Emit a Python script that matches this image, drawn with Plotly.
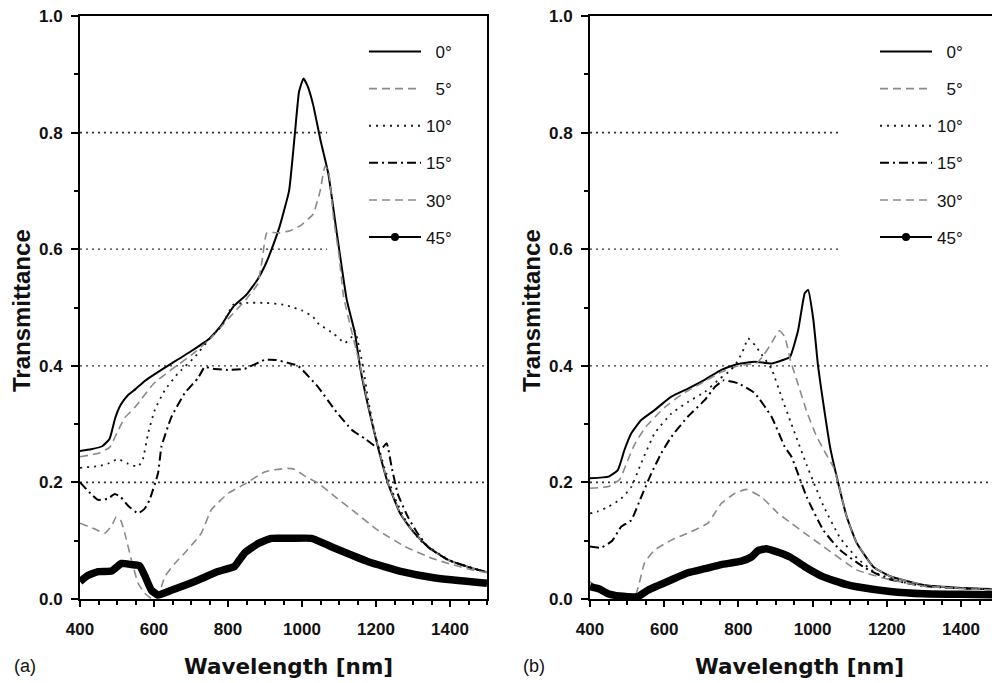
import plotly.graph_objects as go

# ---------------- data: panel (a) ----------------
a0_wl = [400, 430, 460, 480, 495, 510, 530, 550, 575, 600, 650, 700, 750, 780, 815, 850, 880, 900, 918, 940, 965, 981, 992, 1004, 1015, 1030, 1050, 1071, 1094, 1121, 1143, 1157, 1179, 1205, 1232, 1265, 1297, 1341, 1395, 1459, 1500]
a0_t = [0.254, 0.257, 0.262, 0.275, 0.31, 0.333, 0.35, 0.36, 0.374, 0.385, 0.405, 0.425, 0.447, 0.468, 0.502, 0.522, 0.548, 0.572, 0.60, 0.64, 0.70, 0.80, 0.87, 0.893, 0.88, 0.848, 0.787, 0.73, 0.628, 0.513, 0.456, 0.398, 0.33, 0.261, 0.199, 0.147, 0.118, 0.089, 0.067, 0.053, 0.046]

a5_wl = [400, 450, 480, 500, 520, 550, 600, 650, 700, 750, 800, 850, 880, 892, 905, 940, 970, 995, 1030, 1049, 1062, 1071, 1085, 1100, 1112, 1130, 1157, 1180, 1205, 1232, 1265, 1297, 1341, 1395, 1460, 1500]
a5_t = [0.244, 0.25, 0.26, 0.285, 0.31, 0.33, 0.37, 0.395, 0.418, 0.445, 0.48, 0.515, 0.54, 0.58, 0.628, 0.628, 0.632, 0.64, 0.66, 0.70, 0.742, 0.736, 0.655, 0.59, 0.52, 0.47, 0.40, 0.33, 0.262, 0.20, 0.148, 0.118, 0.089, 0.067, 0.053, 0.046]

a10_wl = [400, 450, 475, 503, 530, 557, 570, 584, 602, 629, 665, 710, 755, 782, 815, 850, 900, 950, 976, 1000, 1030, 1043, 1084, 1116, 1135, 1143, 1150, 1165, 1179, 1197, 1222, 1250, 1280, 1320, 1400, 1460, 1500]
a10_t = [0.225, 0.228, 0.232, 0.24, 0.232, 0.227, 0.24, 0.284, 0.324, 0.358, 0.387, 0.415, 0.45, 0.468, 0.505, 0.508, 0.508, 0.505, 0.50, 0.495, 0.484, 0.473, 0.456, 0.439, 0.45, 0.46, 0.445, 0.398, 0.341, 0.284, 0.227, 0.175, 0.135, 0.10, 0.066, 0.053, 0.046]

a15_wl = [400, 430, 449, 475, 494, 510, 530, 557, 575, 588, 611, 620, 647, 683, 719, 737, 760, 800, 845, 899, 930, 962, 989, 1043, 1089, 1135, 1170, 1202, 1215, 1229, 1242, 1259, 1286, 1310, 1341, 1395, 1460, 1500]
a15_t = [0.20, 0.18, 0.17, 0.172, 0.18, 0.175, 0.16, 0.147, 0.155, 0.17, 0.216, 0.261, 0.312, 0.353, 0.379, 0.398, 0.395, 0.393, 0.395, 0.41, 0.41, 0.405, 0.40, 0.364, 0.324, 0.29, 0.275, 0.26, 0.258, 0.267, 0.227, 0.18, 0.141, 0.115, 0.089, 0.067, 0.053, 0.046]

a30_wl = [400, 440, 467, 485, 498, 510, 521, 539, 557, 575, 595, 610, 629, 655, 683, 705, 728, 755, 800, 845, 899, 930, 962, 981, 1010, 1043, 1090, 1135, 1205, 1278, 1351, 1400, 1460, 1500]
a30_t = [0.13, 0.12, 0.113, 0.125, 0.141, 0.135, 0.113, 0.067, 0.027, 0.01, 0.0, 0.003, 0.038, 0.06, 0.079, 0.095, 0.113, 0.153, 0.181, 0.197, 0.218, 0.222, 0.224, 0.222, 0.21, 0.199, 0.175, 0.153, 0.118, 0.09, 0.07, 0.06, 0.05, 0.045]

a45_wl = [400, 420, 449, 485, 512, 539, 561, 575, 593, 611, 647, 710, 773, 818, 832, 845, 881, 917, 968, 1026, 1089, 1179, 1270, 1360, 1500]
a45_t = [0.03, 0.04, 0.047, 0.048, 0.061, 0.059, 0.057, 0.04, 0.015, 0.007, 0.015, 0.03, 0.047, 0.056, 0.068, 0.079, 0.095, 0.104, 0.104, 0.104, 0.087, 0.064, 0.047, 0.036, 0.027]

# ---------------- data: panel (b) ----------------
b0_wl = [400, 450, 475, 493, 511, 538, 574, 619, 664, 709, 754, 798, 844, 889, 920, 939, 961, 979, 988, 1002, 1015, 1029, 1047, 1069, 1092, 1119, 1164, 1209, 1299, 1400, 1500]
b0_t = [0.207, 0.21, 0.221, 0.256, 0.284, 0.307, 0.324, 0.347, 0.361, 0.376, 0.393, 0.403, 0.407, 0.404, 0.41, 0.415, 0.461, 0.525, 0.53, 0.479, 0.398, 0.335, 0.261, 0.199, 0.141, 0.096, 0.055, 0.039, 0.024, 0.019, 0.017]

b5_wl = [400, 450, 480, 500, 520, 550, 600, 650, 700, 750, 800, 850, 870, 890, 910, 925, 940, 960, 985, 1010, 1035, 1057, 1069, 1092, 1119, 1164, 1209, 1299, 1400, 1500]
b5_t = [0.19, 0.193, 0.205, 0.235, 0.265, 0.295, 0.328, 0.352, 0.37, 0.388, 0.40, 0.405, 0.42, 0.44, 0.46, 0.45, 0.41, 0.37, 0.32, 0.28, 0.25, 0.225, 0.199, 0.141, 0.096, 0.055, 0.039, 0.024, 0.019, 0.017]

b10_wl = [400, 420, 449, 484, 511, 538, 574, 619, 664, 709, 750, 780, 800, 815, 826, 845, 862, 889, 916, 943, 984, 1029, 1074, 1120, 1170, 1250, 1350, 1500]
b10_t = [0.147, 0.15, 0.158, 0.172, 0.192, 0.233, 0.284, 0.318, 0.338, 0.355, 0.378, 0.393, 0.41, 0.43, 0.447, 0.435, 0.42, 0.395, 0.347, 0.30, 0.23, 0.16, 0.105, 0.07, 0.045, 0.028, 0.02, 0.016]

b15_wl = [400, 430, 460, 484, 511, 538, 565, 592, 619, 664, 709, 737, 760, 799, 844, 889, 925, 943, 984, 1029, 1074, 1137, 1200, 1300, 1500]
b15_t = [0.09, 0.088, 0.10, 0.124, 0.135, 0.175, 0.215, 0.25, 0.278, 0.313, 0.341, 0.364, 0.375, 0.37, 0.353, 0.313, 0.261, 0.244, 0.175, 0.118, 0.084, 0.055, 0.035, 0.022, 0.016]

b30_wl = [400, 420, 450, 490, 520, 530, 547, 574, 619, 664, 718, 736, 754, 790, 821, 862, 907, 943, 985, 1029, 1119, 1209, 1300, 1500]
b30_t = [0.03, 0.02, 0.006, 0.004, 0.003, 0.02, 0.062, 0.084, 0.101, 0.113, 0.13, 0.147, 0.164, 0.181, 0.188, 0.175, 0.147, 0.13, 0.11, 0.09, 0.05, 0.033, 0.022, 0.015]

b45_wl = [400, 425, 449, 480, 502, 529, 556, 580, 620, 664, 710, 754, 808, 835, 853, 875, 898, 939, 980, 1029, 1090, 1119, 1209, 1300, 1400, 1500]
b45_t = [0.021, 0.017, 0.009, 0.005, 0.004, 0.004, 0.015, 0.022, 0.033, 0.045, 0.052, 0.059, 0.065, 0.072, 0.083, 0.086, 0.082, 0.072, 0.055, 0.038, 0.025, 0.021, 0.013, 0.009, 0.008, 0.007]

angle_labels = ["\u20070\u00b0", "\u20075\u00b0", "10\u00b0", "15\u00b0", "30\u00b0", "45\u00b0"]
y_tick_vals = [0.0, 0.2, 0.4, 0.6, 0.8, 1.0]
x_tick_vals = [400, 600, 800, 1000, 1200, 1400]
grid_levels = [0.2, 0.4, 0.6, 0.8]

panels = [
    dict(
        series=[(a0_wl, a0_t), (a5_wl, a5_t), (a10_wl, a10_t), (a15_wl, a15_t), (a30_wl, a30_t), (a45_wl, a45_t)],
        xa="x", ya="y", legend="legend", letter="(a)",
    ),
    dict(
        series=[(b0_wl, b0_t), (b5_wl, b5_t), (b10_wl, b10_t), (b15_wl, b15_t), (b30_wl, b30_t), (b45_wl, b45_t)],
        xa="x2", ya="y2", legend="legend2", letter="(b)",
    ),
]

# line style per angle: (colour, width, dash)
styles = [
    ("#000000", 2.0, "solid"),
    ("#8a8a8a", 1.6, "8px,5px"),
    ("#1a1a1a", 1.8, "2px,5px"),
    ("#000000", 2.0, "9px,4px,2px,4px"),
    ("#8a8a8a", 1.6, "8px,5px"),
]

W, H = 992, 683
fig = go.Figure()

for p in panels:
    for i, (wl, t) in enumerate(p["series"]):
        grp = p["legend"] + "_" + str(i)
        if i < 5:
            col, lw, dash = styles[i]
            fig.add_trace(go.Scatter(
                x=wl, y=t, mode="lines", name=angle_labels[i],
                line=dict(color=col, width=lw, dash=dash, shape="spline", smoothing=0.4),
                xaxis=p["xa"], yaxis=p["ya"], legend=p["legend"], legendgroup=grp,
            ))
        else:
            # thick 45 deg curve
            fig.add_trace(go.Scatter(
                x=wl, y=t, mode="lines", name=angle_labels[i],
                line=dict(color="#000000", width=7.5, shape="spline", smoothing=0.4),
                xaxis=p["xa"], yaxis=p["ya"], legend=p["legend"], legendgroup=grp,
                showlegend=False,
            ))
            # legend key: line with a dot
            fig.add_trace(go.Scatter(
                x=[None], y=[None], mode="lines+markers", name=angle_labels[i],
                line=dict(color="#000000", width=2),
                marker=dict(color="#000000", size=8),
                xaxis=p["xa"], yaxis=p["ya"], legend=p["legend"], legendgroup=grp,
            ))

# dotted horizontal guide lines (upper two stop short of the key)
shapes = []
for xa, ya in [("x", "y"), ("x2", "y2")]:
    for lev in grid_levels:
        shapes.append(dict(
            type="line", layer="below",
            xref=xa + " domain", yref=ya,
            x0=0, x1=1 if lev < 0.5 else 0.607 if xa == "x" else 0.617,
            y0=lev, y1=lev,
            line=dict(color="#333333", width=1.8 if lev in (0.2, 0.8) else 1.3, dash="2px,4px"),
        ))

tick_font = dict(family="Liberation Sans, Arial", size=17, color="#111111", weight="bold")

def xaxis_cfg(domain, rng, mirror=True):
    return dict(
        domain=domain, range=rng, tickvals=x_tick_vals, ticks="outside", ticklen=6, tickwidth=1.5,
        tickcolor="#000", showline=True, linecolor="#000", linewidth=2, mirror=mirror,
        showgrid=False, zeroline=False, tickfont=tick_font, ticklabelstandoff=8, automargin=False,
        minor=dict(dtick=50, tick0=400, ticks="outside", ticklen=4, tickwidth=1.5, tickcolor="#000"),
    )

def yaxis_cfg(anchor, mirror=True):
    return dict(
        domain=[1 - 599 / H, 1 - 16 / H], range=[0, 1.0], anchor=anchor, tickvals=y_tick_vals,
        tickformat=".1f", ticks="outside", ticklen=7, tickwidth=1.5, tickcolor="#000",
        showline=True, linecolor="#000", linewidth=2, mirror=mirror, showgrid=False, zeroline=False,
        tickfont=tick_font, ticklabelstandoff=5, automargin=False,
        minor=dict(dtick=0.1, ticks="outside", ticklen=4, tickwidth=1.5, tickcolor="#000"),
    )

legend_common = dict(
    bgcolor="rgba(0,0,0,0)", borderwidth=0, itemwidth=52, tracegroupgap=12,
    font=dict(family="Liberation Sans, Arial", size=17, color="#111111"),
    xanchor="left", yanchor="top", itemclick=False, itemdoubleclick=False,
)

annotations = []
for txt, cx, cy in [("Wavelength [nm]", 288, 666), ("Wavelength [nm]", 799, 666)]:
    annotations.append(dict(text=txt, x=cx / W, y=1 - cy / H, xref="paper", yref="paper",
                            showarrow=False, xanchor="center", yanchor="middle",
                            font=dict(family="DejaVu Sans", size=21.5, color="#111111", weight="bold")))
for cx in (21, 531):
    annotations.append(dict(text="Transmittance", x=cx / W, y=1 - 311 / H, xref="paper", yref="paper",
                            showarrow=False, xanchor="center", yanchor="middle", textangle=-90,
                            font=dict(family="Liberation Sans, Arial", size=24, color="#111111", weight="bold")))
for p, lx in zip(panels, (12, 521)):
    annotations.append(dict(text=p["letter"], x=lx / W, y=1 - 666 / H, xref="paper", yref="paper",
                            showarrow=False, xanchor="left", yanchor="middle",
                            font=dict(family="Liberation Sans, Arial", size=18, color="#111111")))

fig.update_layout(
    width=W, height=H, margin=dict(l=0, r=0, t=0, b=0, autoexpand=False), autosize=False,
    paper_bgcolor="white", plot_bgcolor="white",
    xaxis=xaxis_cfg([80 / W, 487 / W], [400, 1500]),
    yaxis=yaxis_cfg("x"),
    xaxis2=dict(xaxis_cfg([590 / W, 1.0], [400, 400 + (W - 590) / 0.371]), anchor="y2"),
    yaxis2=yaxis_cfg("x2", mirror=False),
    legend=dict(legend_common, x=364 / W, y=1 - 34 / H),
    legend2=dict(legend_common, x=875 / W, y=1 - 34 / H),
    shapes=shapes, annotations=annotations, showlegend=True,
)

fig.write_html(
    "out.html",
    config={"responsive": False},
    default_width="992px",
    default_height="683px",
    post_script="document.body.style.margin='0';document.body.style.padding='0';",
)
